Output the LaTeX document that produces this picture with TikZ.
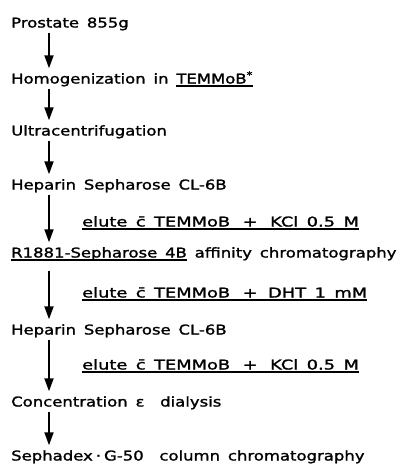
\documentclass[tikz,border=0pt]{standalone}
\usepackage{fontspec}
\setmainfont{DejaVu Sans}[FakeStretch=1.22,FakeBold=1.5,WordSpace=1.5]
\newfontfamily\elutefont{DejaVu Sans}[FakeStretch=1.32,FakeBold=1.5,WordSpace=1.5]
\usepackage{tikz}
\usetikzlibrary{arrows.meta}
\newcommand{\ulin}[1]{\setbox0\hbox{#1}\rlap{\rule[-3pt]{\wd0}{1.1pt}}\box0\relax}
\tikzset{
  stage/.style={anchor=base west, inner sep=2pt, text height=10pt, text depth=3pt, font=\fontsize{13.5}{15}\selectfont},
  elute/.style={anchor=base west, inner sep=2pt, font=\elutefont\fontsize{13.5}{15}\selectfont},
  arrow/.style={-{Triangle[length=13pt,width=9pt]}, line width=1.8pt, shorten >=3pt}
}

\begin{document}
\begin{tikzpicture}[x=1pt,y=-1pt]
  \useasboundingbox (0,0) rectangle (404,464);
  \coordinate (spine) at (49,0);

  \node[stage] (prostate) at (9,27.5) {Prostate 855g};
  \node[stage] (homog) at (9,83.5) {Homogenization in \ulin{TEMMoB\textsuperscript{*}}};
  \node[stage] (ultra) at (9,135.5) {Ultracentrifugation};
  \node[stage] (hepA) at (9,189.5) {Heparin Sepharose CL-6B};
  \node[stage] (affin) at (9,257.5) {\ulin{R1881-Sepharose 4B} affinity chromatography};
  \node[stage] (hepB) at (9,334.5) {Heparin Sepharose CL-6B};
  \node[stage] (conc) at (9,406.5) {Concentration ε\ \ dialysis};
  \node[stage] (gel) at (9,460.5) {Sephadex\hspace{3pt}·\hspace{3pt}G-50\ \ column chromatography};

  \node[elute] (kclA) at (80,226.5) {\ulin{elute \={c} TEMMoB\hspace{4pt} + \hspace{4pt}KCl 0.5 M}};
  \node[elute] (dht) at (80,297.5) {\ulin{elute \={c} TEMMoB\hspace{4pt} + \hspace{2pt}DHT 1 mM}};
  \node[elute] (kclB) at (80,369.5) {\ulin{elute \={c} TEMMoB\hspace{4pt} + \hspace{4pt}KCl 0.5 M}};

  \draw[arrow] (prostate.south -| spine) -- (homog.north -| spine);
  \draw[arrow] (homog.south -| spine) -- (ultra.north -| spine);
  \draw[arrow] (ultra.south -| spine) -- (hepA.north -| spine);
  \draw[arrow] (hepA.south -| spine) -- (affin.north -| spine);
  \draw[arrow, shorten <=8pt] (affin.south -| spine) -- (hepB.north -| spine);
  \draw[arrow] (hepB.south -| spine) -- (conc.north -| spine);
  \draw[arrow] (conc.south -| spine) -- (gel.north -| spine);
\end{tikzpicture}
\end{document}
